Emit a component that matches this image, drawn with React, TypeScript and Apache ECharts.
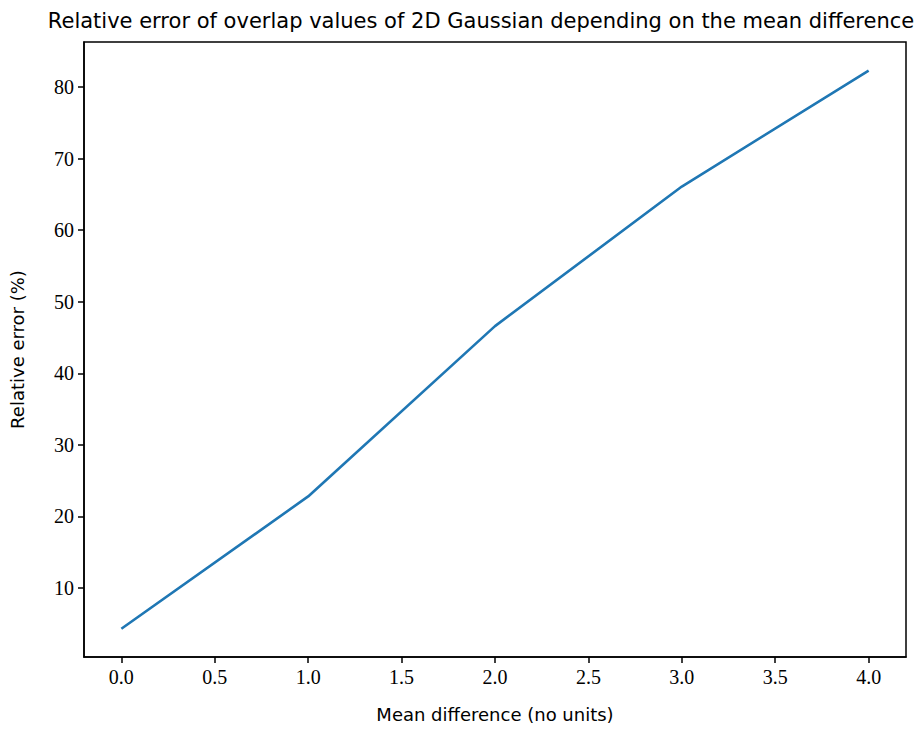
import React, { useEffect, useRef } from "react";
import * as echarts from "echarts";

const meanDiff = [0, 1, 2, 3, 4];
const relError = [4.3, 22.8, 46.6, 66.1, 82.3];
const xTicks = [0, 0.5, 1, 1.5, 2, 2.5, 3, 3.5, 4];
const yTicks = [10, 20, 30, 40, 50, 60, 70, 80];

const serif = "'Liberation Serif', 'DejaVu Serif', serif";
const sans = "'DejaVu Sans', 'Liberation Sans', sans-serif";

export default function App() {
  const ref = useRef<HTMLDivElement>(null);
  useEffect(() => {
    const chart = echarts.init(ref.current!, null, { renderer: "svg" });
    chart.setOption({
      animation: false,
      backgroundColor: "#ffffff",
      title: {
        text: "Relative error of overlap values of 2D Gaussian depending on the mean difference",
        left: 476,
        textAlign: "center",
        top: 5,
        textStyle: { fontFamily: sans, fontSize: 21, fontWeight: "normal", color: "#000" },
      },
      grid: { left: 84, right: 17, top: 42, bottom: 73, show: true, borderColor: "#000", borderWidth: 1.5 },
      xAxis: {
        type: "value",
        min: -0.2,
        max: 4.2,
        name: "Mean difference (no units)",
        nameLocation: "middle",
        nameGap: 48,
        nameTextStyle: { fontFamily: sans, fontSize: 18, color: "#000" },
        axisLine: { show: true, onZero: false, lineStyle: { color: "#000", width: 1.5 } },
        axisTick: { show: true, length: 6, lineStyle: { color: "#000", width: 1.5 }, customValues: xTicks },
        axisLabel: {
          customValues: xTicks,
          formatter: (v: number) => v.toFixed(1),
          fontFamily: serif,
          fontSize: 20,
          color: "#000",
          margin: 10,
        },
        splitLine: { show: false },
      },
      yAxis: {
        type: "value",
        min: 0.36,
        max: 86.3,
        name: "Relative error (%)",
        nameLocation: "middle",
        nameGap: 58,
        nameTextStyle: { fontFamily: sans, fontSize: 18, color: "#000" },
        axisLine: { show: true, onZero: false, lineStyle: { color: "#000", width: 1.5 } },
        axisTick: { show: true, length: 6, lineStyle: { color: "#000", width: 1.5 }, customValues: yTicks },
        axisLabel: {
          customValues: yTicks,
          formatter: (v: number) => String(v),
          fontFamily: serif,
          fontSize: 20,
          color: "#000",
          margin: 10,
        },
        splitLine: { show: false },
      },
      series: [
        {
          type: "line",
          data: meanDiff.map((x, i) => [x, relError[i]]),
          showSymbol: false,
          lineStyle: { color: "#1f77b4", width: 2.6 },
          itemStyle: { color: "#1f77b4" },
        },
      ],
    });
    return () => chart.dispose();
  }, []);
  return <div ref={ref} style={{ width: 923, height: 730, position: "absolute", left: 0, top: 0 }} />;
}
